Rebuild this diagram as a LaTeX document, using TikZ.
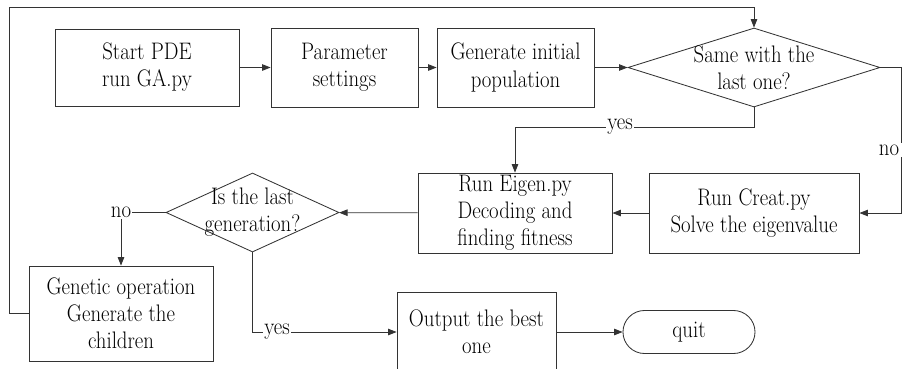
\documentclass[tikz,border=0pt]{standalone}
\usepackage{fontspec}
\setmainfont{Latin Modern Roman}[FakeStretch = 0.87]
\usetikzlibrary{calc, positioning, shapes.geometric, shapes.misc, arrows.meta}

\begin{document}
\begin{tikzpicture}[x = .025cm, y = -.025cm, line width = .6pt, draw = black!80,
  every node/.style = {font = \rmfamily\fontsize{17}{19.3}\selectfont},
  box/.style = {draw = black!80, align = center, inner sep = 0pt},
  decision/.style = {draw = black!80, diamond, inner sep = 0pt},
  term/.style = {draw = black!80, rounded rectangle, inner sep = 0pt},
  tag/.style = {fill = white, inner sep = 1pt},
  arr/.style = {-{Triangle[length = 6pt, width = 4.6pt]}}]
\clip (0,0) rectangle (910,369);
\node[box, minimum width = 4.6cm, minimum height = 1.925cm] (start) at (147,67.5) {Start PDE\\run GA.py};
\node[box, minimum width = 3.675cm, minimum height = 1.975cm] (param) at (344.5,67.5) {Parameter\\settings};
\node[box, minimum width = 3.925cm, minimum height = 1.975cm] (init) at (515.5,67.5) {Generate initial\\population};
\node[decision, minimum width = 6.3cm, minimum height = 1.975cm, shape aspect = 3.2] (same) at (754,67.5) {};
\node[align = center] (sametxt) at (754,67.5) {Same with the\\last one?};
\node[box, minimum width = 5.25cm, minimum height = 2cm] (creat) at (754,213) {Run Creat.py\\Solve the eigenvalue};
\node[box, minimum width = 4.85cm, minimum height = 2cm] (eigen) at (515,213) {Run Eigen.py\\Decoding and\\finding fitness};
\node[decision, minimum width = 4.325cm, minimum height = 1.975cm, shape aspect = 2.2] (last) at (252.5,212.5) {};
\node[align = center] (lasttxt) at (252.5,212.5) {Is the last\\generation?};
\node[box, minimum width = 4.6cm, minimum height = 2.375cm] (gen) at (121,313.5) {Genetic operation\\Generate the\\children};
\node[box, minimum width = 3.975cm, minimum height = 2cm] (out) at (476.5,332) {Output the best\\one};
\node[term, minimum width = 3.3cm, minimum height = 1.075cm] (quit) at (689,332) {quit};
\coordinate (top) at (754,7);
\draw[arr] (start) -- (param);
\draw[arr] (param) -- (init);
\draw[arr] (init) -- (same);
\draw[arr] (same.south) -- (754,127) -| (eigen.north);
\node[tag] (yes1) at (620,127) {yes};
\draw[arr] (same.east) -- (901,67.5) |- (creat.east);
\node[tag, inner xsep = 3pt] (no1) at (889,150) {no};
\draw[arr] (creat) -- (eigen);
\draw[arr] (eigen) -- (last);
\draw[arr] (last.west) -- (121,212.5) -- (gen.north);
\node[tag] (no2) at (121,212.5) {no};
\draw[arr] (gen.west) -- (9,313.5) |- (top) -- (same.north);
\draw[arr] (last.south) |- (out.west);
\node[tag] (yes2) at (277,332) {yes};
\draw[arr] (out) -- (quit);
\end{tikzpicture}
\end{document}
